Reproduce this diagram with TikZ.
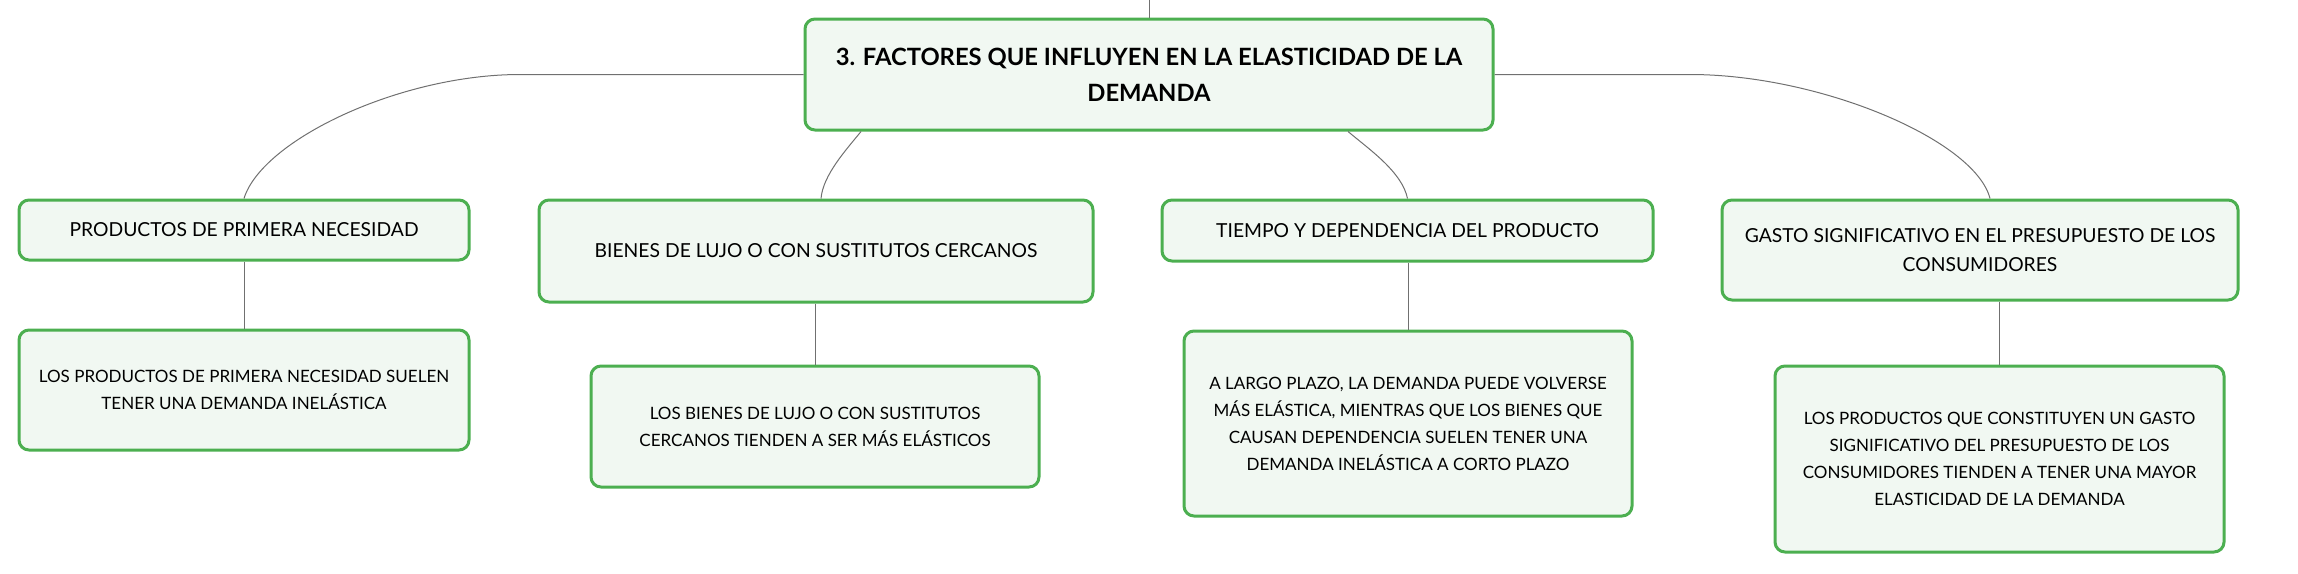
\documentclass[tikz,border=0pt]{standalone}
\usepackage{fontspec}
\setmainfont{Lato}
\usepackage{tikz}
\usepackage{xcolor}
\definecolor{verde}{HTML}{4CAF50}
\definecolor{fondo}{HTML}{F1F8F2}
\definecolor{gris}{HTML}{707070}

\begin{document}
\begin{tikzpicture}[x=1pt,y=1pt,
                    caja/.style={draw=verde,fill=fondo,line width=3pt,rounded corners=10pt,
                                 align=center,inner sep=0pt,font=\fontsize{19.3}{29.5}\selectfont},
                    hoja/.style={caja,font=\fontsize{17}{27}\selectfont},
                    raiz/.style={caja,font=\fontsize{23.8}{36}\selectfont\bfseries},
                    enlace/.style={draw=gris,line width=1pt}]
                    \useasboundingbox (0,0) rectangle (2298,-573);
                    \node[raiz,minimum width=688,minimum height=111] (raiz) at (1149,-74.5)
                        {3. FACTORES QUE INFLUYEN EN LA ELASTICIDAD DE LA\\DEMANDA};
                    \node[caja,minimum width=450,minimum height=60] (b1) at (244,-230)
                        {PRODUCTOS DE PRIMERA NECESIDAD};
                    \node[caja,minimum width=554,minimum height=102] (b2) at (816,-251)
                        {BIENES DE LUJO O CON SUSTITUTOS CERCANOS};
                    \node[caja,minimum width=491,minimum height=61] (b3) at (1407.5,-230.5)
                        {TIEMPO Y DEPENDENCIA DEL PRODUCTO};
                    \node[caja,minimum width=516,minimum height=100] (b4) at (1980,-250)
                        {GASTO SIGNIFICATIVO EN EL PRESUPUESTO DE LOS\\CONSUMIDORES};
                    \node[hoja,minimum width=450,minimum height=120] (c1) at (244,-390)
                        {LOS PRODUCTOS DE PRIMERA NECESIDAD SUELEN\\TENER UNA DEMANDA INELÁSTICA};
                    \node[hoja,minimum width=448,minimum height=121] (c2) at (815,-426.5)
                        {LOS BIENES DE LUJO O CON SUSTITUTOS\\CERCANOS TIENDEN A SER MÁS ELÁSTICOS};
                    \node[hoja,minimum width=448,minimum height=185] (c3) at (1408,-423.5)
                        {A LARGO PLAZO, LA DEMANDA PUEDE VOLVERSE\\MÁS ELÁSTICA, MIENTRAS QUE LOS BIENES QUE\\
                         CAUSAN DEPENDENCIA SUELEN TENER UNA\\DEMANDA INELÁSTICA A CORTO PLAZO};
                    \node[hoja,minimum width=449,minimum height=186] (c4) at (1999.5,-459)
                        {LOS PRODUCTOS QUE CONSTITUYEN UN GASTO\\SIGNIFICATIVO DEL PRESUPUESTO DE LOS\\
                         CONSUMIDORES TIENDEN A TENER UNA MAYOR\\ELASTICIDAD DE LA DEMANDA};
                    \coordinate (arriba) at (1149,0);
                    \draw[enlace] (arriba) -- (raiz.north);
                    \draw[enlace] (raiz.west) -- (520,-74.5) .. controls (400,-74.5) and (262,-140) .. (b1.north);
                    \draw[enlace] ([xshift=-288]raiz.south) .. controls (846,-150) and (823,-175) .. ([xshift=5]b2.north);
                    \draw[enlace] ([xshift=199]raiz.south) .. controls (1370,-150) and (1402,-172) .. (b3.north);
                    \draw[enlace] (raiz.east) -- (1690,-74.5) .. controls (1820,-74.5) and (1975,-140) .. ([xshift=10]b4.north);
                    \foreach \a/\b in {b1/c1,b2/c2,b3/c3,b4/c4}
                        \draw[enlace] (\b.north |- \a.south) -- (\b.north);
                \end{tikzpicture}
\end{document}
